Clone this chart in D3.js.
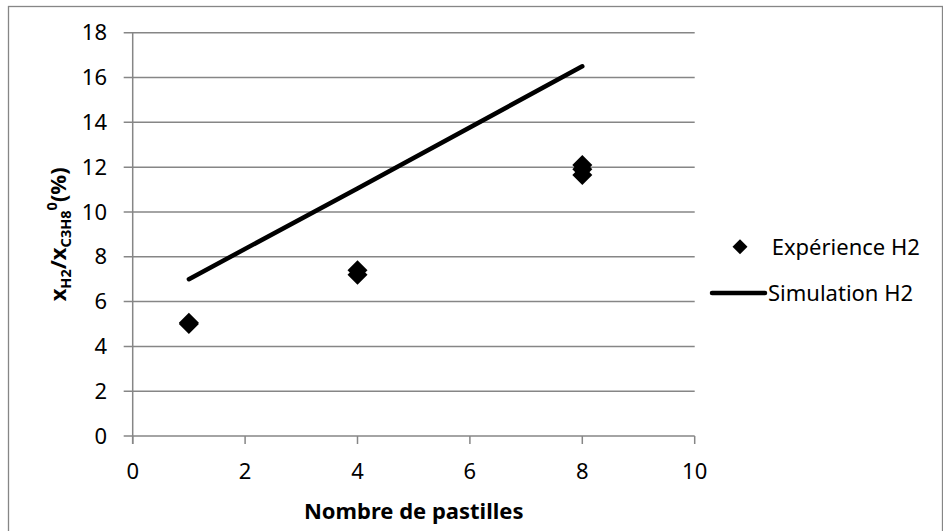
<!DOCTYPE html>
<html>
<head>
<meta charset="utf-8">
<script src="https://cdn.jsdelivr.net/npm/d3@7"></script>
<style>
    body { margin: 0; background: #fff; }
    #chart { width: 943px; height: 531px; }
    text { font-family: "Noto Sans", "Open Sans", sans-serif; fill: #000; }
</style>
</head>
<body>
<div id="chart"></div>
<script>
// Nombre de pastilles vs x_H2 / x_C3H8^0 (%)
const expX = [1, 1, 4, 4, 8, 8, 8];
const expY = [5.0, 5.05, 7.2, 7.4, 11.65, 11.9, 12.1];
const simX = [1, 4, 8];
const simY = [7.0, 11.05, 16.5];
const xTicks = [0, 2, 4, 6, 8, 10];
const yTicks = [0, 2, 4, 6, 8, 10, 12, 14, 16, 18];
const legendLabels = ['Expérience H2', 'Simulation H2'];

class ScatterLineChart {
    constructor(container) {
        this.container = container;
        this.width = 943;
        this.height = 531;
        this.margin = { top: 32.7, right: 248.3, bottom: 95, left: 132.7 };
        this.init();
    }

    init() {
        this.svg = d3.select(this.container)
            .append('svg')
            .attr('width', this.width)
            .attr('height', this.height);

        // outer chart border
        this.svg.append('rect')
            .attr('x', 8.5)
            .attr('y', 6.5)
            .attr('width', 934)
            .attr('height', 530)
            .attr('fill', 'none')
            .attr('stroke', '#868686')
            .attr('stroke-width', 1.3);

        const m = this.margin;
        this.x = d3.scaleLinear().domain([0, 10]).range([m.left, this.width - m.right]);
        this.y = d3.scaleLinear().domain([0, 18]).range([this.height - m.bottom, m.top]);
    }

    draw() {
        const x = this.x, y = this.y;
        const svg = this.svg;

        // horizontal gridlines (extend left as ticks)
        svg.append('g')
            .selectAll('line')
            .data(yTicks)
            .enter().append('line')
            .attr('x1', x(0) - 9)
            .attr('x2', x(10))
            .attr('y1', d => y(d))
            .attr('y2', d => y(d))
            .attr('stroke', '#868686')
            .attr('stroke-width', 1.5);

        // y axis line
        svg.append('line')
            .attr('x1', x(0)).attr('x2', x(0))
            .attr('y1', y(18)).attr('y2', y(0) + 8)
            .attr('stroke', '#868686')
            .attr('stroke-width', 1.5);

        // x axis ticks
        svg.append('g')
            .selectAll('line')
            .data(xTicks)
            .enter().append('line')
            .attr('x1', d => x(d)).attr('x2', d => x(d))
            .attr('y1', y(0)).attr('y2', y(0) + 8)
            .attr('stroke', '#868686')
            .attr('stroke-width', 1.5);

        // tick labels
        svg.append('g')
            .selectAll('text')
            .data(yTicks)
            .enter().append('text')
            .attr('x', 107)
            .attr('y', d => y(d))
            .attr('dy', '0.35em')
            .attr('text-anchor', 'end')
            .style('font-size', '22px')
            .text(d => d);

        svg.append('g')
            .selectAll('text')
            .data(xTicks)
            .enter().append('text')
            .attr('x', d => x(d))
            .attr('y', 479)
            .attr('text-anchor', 'middle')
            .style('font-size', '22px')
            .text(d => d);

        // axis titles
        svg.append('text')
            .attr('x', (x(0) + x(10)) / 2)
            .attr('y', 519)
            .attr('text-anchor', 'middle')
            .style('font-size', '22px')
            .style('font-weight', 'bold')
            .text('Nombre de pastilles');

        const yTitle = svg.append('text')
            .attr('transform', `translate(66, ${(y(0) + y(18)) / 2}) rotate(-90)`)
            .attr('text-anchor', 'middle')
            .style('font-size', '22px')
            .style('font-weight', 'bold');
        yTitle.append('tspan').text('x');
        yTitle.append('tspan').attr('dy', 5).style('font-size', '14.5px').text('H2');
        yTitle.append('tspan').attr('dy', -5).text('/x');
        yTitle.append('tspan').attr('dy', 5).style('font-size', '14.5px').text('C3H8');
        yTitle.append('tspan').attr('dy', -14).style('font-size', '14.5px').text('0');
        yTitle.append('tspan').attr('dy', 9).text('(%)');

        // simulation line
        const simData = simX.map((d, i) => ({ x: d, y: simY[i] }));
        const line = d3.line().x(d => x(d.x)).y(d => y(d.y));
        svg.append('path')
            .datum(simData)
            .attr('d', line)
            .attr('fill', 'none')
            .attr('stroke', '#000')
            .attr('stroke-width', 4.5)
            .attr('stroke-linecap', 'round');

        // experimental points
        const expData = expX.map((d, i) => ({ x: d, y: expY[i] }));
        const diamond = d3.symbol().type(d3.symbolSquare).size(200);
        svg.append('g')
            .selectAll('path')
            .data(expData)
            .enter().append('path')
            .attr('d', diamond)
            .attr('transform', d => `translate(${x(d.x)}, ${y(d.y)}) rotate(45)`)
            .attr('fill', '#000');

        // legend
        const lg = svg.append('g');
        lg.append('path')
            .attr('d', d3.symbol().type(d3.symbolSquare).size(112))
            .attr('transform', 'translate(740, 246.7) rotate(45)')
            .attr('fill', '#000');
        lg.append('text')
            .attr('x', 771.7)
            .attr('y', 254.5)
            .style('font-size', '22px')
            .text(legendLabels[0]);
        lg.append('line')
            .attr('x1', 712).attr('x2', 765)
            .attr('y1', 293).attr('y2', 293)
            .attr('stroke', '#000')
            .attr('stroke-width', 4.5)
            .attr('stroke-linecap', 'round');
        lg.append('text')
            .attr('x', 768)
            .attr('y', 301)
            .style('font-size', '22px')
            .text(legendLabels[1]);
    }
}

const chart = new ScatterLineChart(document.getElementById('chart'));
chart.draw();
</script>
</body>
</html>
